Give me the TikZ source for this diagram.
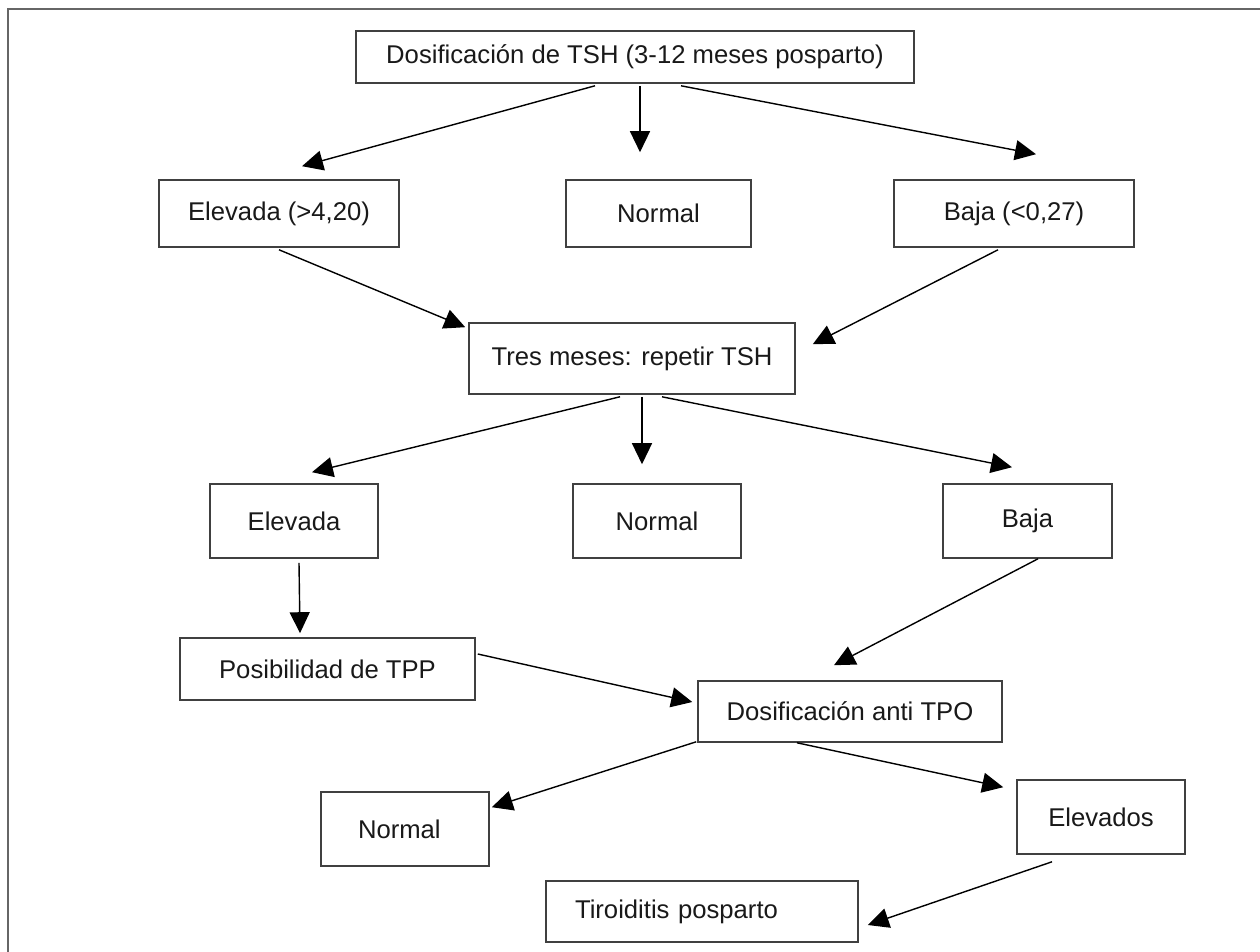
\documentclass[tikz,border=0pt]{standalone}
\usepackage{fontspec}
\setmainfont{Liberation Sans}
\usetikzlibrary{arrows.meta, calc}
\definecolor{BoxGrey}{RGB}{64,64,64}
\definecolor{InkBlack}{RGB}{25,25,25}

\begin{document}
\begin{tikzpicture}[x=0.02cm, y=-0.02cm, font=\fontsize{14.6}{17}\selectfont]
    \tikzset{
        flowbox/.style={rectangle, draw=BoxGrey, line width=0.9pt, inner sep=0pt,
            text=InkBlack, align=center},
        padbox/.style={flowbox, align=left},
        stream/.style={line width=0.8pt, -{Triangle[length=0.42cm, width=0.4cm]}},
        outerframe/.style={draw=BoxGrey!80, line width=1pt}
    }
    \useasboundingbox (0,0) rectangle (1260,952);
    \clip (0,0) rectangle (1260,952);
    \draw[outerframe] (8,9) rectangle (1275,965);
    \node[flowbox, minimum width=11.16cm, minimum height=1.04cm] (tsh) at (635,57)
        {Dosificación de TSH (3-12 meses posparto)};
    \node[flowbox, minimum width=4.8cm, minimum height=1.34cm] (elev1) at (279,213.5) {Elevada (>4,20)};
    \node[flowbox, minimum width=3.7cm, minimum height=1.34cm] (norm1) at (658.5,213.5) {Normal};
    \node[flowbox, minimum width=4.8cm, minimum height=1.34cm] (baja1) at (1014,213.5) {Baja (<0,27)};
    \node[flowbox, minimum width=6.52cm, minimum height=1.42cm] (tres) at (632,358.5) {Tres meses: repetir TSH};
    \node[flowbox, minimum width=3.36cm, minimum height=1.48cm] (elev2) at (294,521) {Elevada};
    \node[flowbox, minimum width=3.36cm, minimum height=1.48cm] (norm2) at (657,521) {Normal};
    \node[flowbox, minimum width=3.38cm, minimum height=1.48cm] (baja2) at (1027.5,521) {Baja};
    \node[flowbox, minimum width=5.9cm, minimum height=1.24cm] (posib) at (327.5,669) {Posibilidad de TPP};
    \node[flowbox, minimum width=6.08cm, minimum height=1.22cm] (anti) at (850,711.5) {Dosificación anti TPO};
    \node[padbox, text width=1.88cm, inner xsep=0.74cm, minimum height=1.48cm] (norm3) at (405,829) {Normal};
    \node[flowbox, minimum width=3.36cm, minimum height=1.48cm] (elevs) at (1101,817) {Elevados};
    \node[padbox, text width=5.08cm, inner xsep=0.58cm, minimum height=1.22cm] (tiro) at (702,911.5) {Tiroiditis posparto};
    \draw[stream] ($(tsh.south)+(-40,2)$) -- ($(elev1.north)+(23,-13)$);
    \draw[stream] ($(tsh.south)+(5,2)$) -- ($(norm1.north)+(-18.5,-27)$);
    \draw[stream] ($(tsh.south)+(46,2)$) -- ($(baja1.north)+(22,-25)$);
    \draw[stream] ($(elev1.south)+(0,2)$) -- ($(tres.north west)+(-3,5)$);
    \draw[stream] ($(baja1.south)+(-16,2)$) -- ($(tres.north east)+(17,22)$);
    \draw[stream] ($(tres.south)+(-12,2)$) -- ($(elev2.north)+(18,-11)$);
    \draw[stream] ($(tres.south)+(10,2)$) -- ($(norm2.north)+(-15,-19)$);
    \draw[stream] ($(tres.south)+(30,2)$) -- ($(baja2.north)+(-15.5,-16)$);
    \draw[stream] ($(elev2.south)+(5,4)$) -- ($(posib.north)+(-27.5,-4)$);
    \draw[stream] ($(baja2.south)+(10.5,0)$) -- ($(anti.north)+(-16,-15)$);
    \draw[stream] ($(posib.east)+(2,-15)$) -- ($(anti.west)+(-5,-9.5)$);
    \draw[stream] ($(anti.south west)+(-1,-1)$) -- ($(norm3.north east)+(2,16)$);
    \draw[stream] ($(anti.south)+(-53,0)$) -- ($(elevs.north west)+(-13,8)$);
    \draw[stream] ($(elevs.south)+(-49,7)$) -- ($(tiro.east)+(9,13.5)$);
\end{tikzpicture}
\end{document}
